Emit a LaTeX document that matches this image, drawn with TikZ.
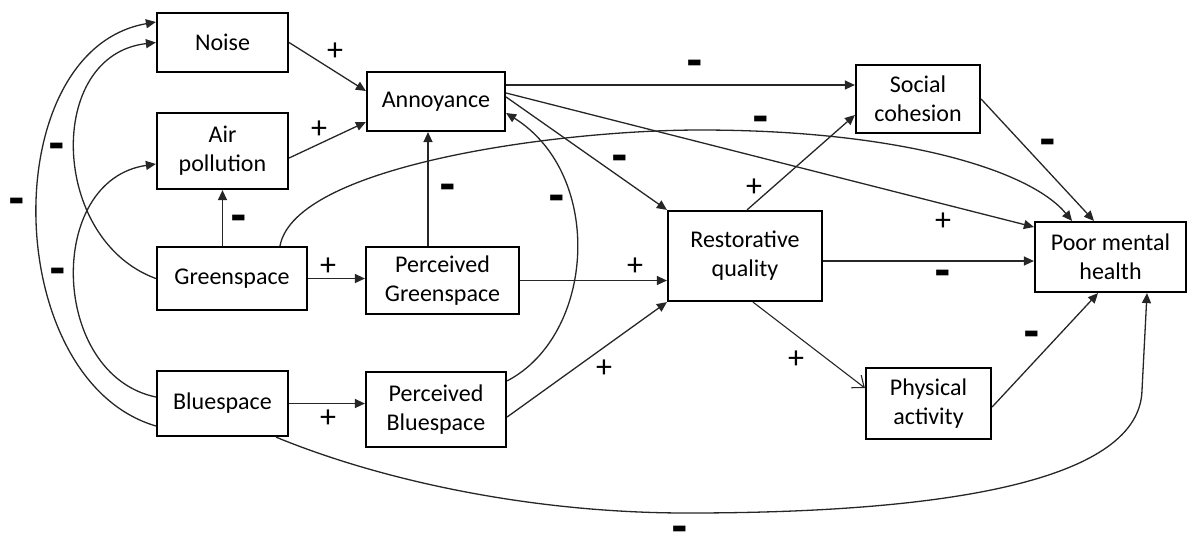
\documentclass[tikz,border=0pt]{standalone}
\usepackage{fontspec}
\setmainfont{Carlito}
\newfontfamily\djb{DejaVu Sans Bold}
\usetikzlibrary{arrows.meta,calc}
\begin{document}
\begin{tikzpicture}[x=0.5pt,y=-0.5pt,
  box/.style={draw=black, line width=1.1pt, rectangle, align=center, inner sep=0pt,
              font=\fontsize{12}{14.6}\selectfont},
  conn/.style={draw=black!85, line width=0.65pt, -{Triangle[length=5pt,width=4.5pt]}},
  openconn/.style={draw=black!85, line width=0.55pt, -{Straight Barb[length=5pt,width=8pt]}},
  plus/.style={font=\fontsize{16}{16}\selectfont, inner sep=0pt},
  minus/.style={font=\djb\fontsize{20}{20}\selectfont, inner sep=0pt}]
\useasboundingbox (0,0) rectangle (1192,548);

% boxes
\node[box,minimum width=65.5pt,minimum height=29.5pt] (noise) at (222.5,42.5) {Noise};
\node[box,minimum width=65.5pt,minimum height=38pt] (air) at (222.5,151) {Air\\pollution};
\node[box,minimum width=75pt,minimum height=31.5pt] (green) at (232,278.5) {Greenspace};
\node[box,minimum width=65.5pt,minimum height=32.5pt] (blue) at (222.5,403.5) {Bluespace};
\node[box,minimum width=69pt,minimum height=29.5pt] (ann) at (436,101.5) {Annoyance};
\node[box,minimum width=76.5pt,minimum height=33.5pt] (pg) at (442.5,280.5) {Perceived\\Greenspace};
\node[box,minimum width=70pt,minimum height=37.5pt] (pb) at (436,409.5) {Perceived\\Bluespace};
\node[box,minimum width=77pt,minimum height=45pt] (rq) at (745,256) {Restorative\\quality};
\node[box,minimum width=62pt,minimum height=34pt] (sc) at (918,99) {Social\\cohesion};
\node[box,minimum width=75.5pt,minimum height=35pt] (pmh) at (1110.5,257) {Poor mental\\health};
\node[box,minimum width=62.5pt,minimum height=35.5pt] (pa) at (928.5,403.5) {Physical\\activity};

% connectors
\draw[conn] (noise.east) -- ([yshift=5.25pt]ann.west);
\draw[conn] ([yshift=-3.5pt]air.east) -- ([yshift=-10.25pt]ann.west);
\draw[conn] (air.south |- green.north) -- (air.south);
\draw[conn] (green.west) .. controls (50,240) and (45,55) .. (noise.west);
\draw[conn] ([yshift=-11.25pt]blue.west) .. controls (0,380) and (-5,50) .. ([yshift=10.25pt]noise.west);
\draw[conn] ([yshift=3.25pt]blue.west) .. controls (50,375) and (45,180) .. ([yshift=-6.5pt]air.west);
\draw[conn] (green.east) -- (green.east -| pg.west);
\draw[conn] (blue.east) -- (blue.east -| pb.west);
\draw[conn] ([xshift=-7.25pt]pg.north) -- ([xshift=-7.25pt]pg.north |- ann.south);
\draw[conn] ([yshift=-5pt]pb.north east) .. controls (595,335) and (605,175) .. ([yshift=-5.75pt]ann.east);
\draw[conn] ([yshift=8.25pt]ann.east) -- ([yshift=8.25pt]ann.east -| sc.west);
\draw[conn] ([yshift=4.25pt]ann.east) -- ([yshift=15pt]pmh.west);
\draw[conn] ([yshift=2.25pt]ann.east) -- (rq.north west);
\draw[conn] ([xshift=24pt]green.north) .. controls (295,165) and (560,130) .. (700,130)
   .. controls (900,130) and (1030,170) .. ([xshift=-19.25pt]pmh.north);
\draw[conn] (pg.east) -- (pg.east -| rq.west);
\draw[conn] ([yshift=-3.75pt]pb.east) -- (rq.south west);
\draw[conn] ([xshift=1pt]rq.north) -- ([yshift=-8pt]sc.west);
\draw[conn] ([yshift=-2.5pt]rq.east) -- ([yshift=-2.5pt]rq.east -| pmh.west);
\draw[openconn] ([xshift=4pt]rq.south) -- ([yshift=7.75pt]pa.west);
\draw[conn] (sc.east) -- ([xshift=-8.25pt]pmh.north);
\draw[conn] ([yshift=-1.75pt]pa.east) -- ([xshift=-6.25pt]pmh.south);
\coordinate (bend) at (1142,390);
\draw[conn] ([xshift=26.75pt]blue.south) .. controls (380,480) and (530,513) .. (687,513)
   .. controls (950,513) and (1140,480) .. (bend) -- ([xshift=18.25pt]pmh.south);

% signs
\node[plus]  (s1)  at (335,52)  {+};
\node[plus]  (s2)  at (319,130) {+};
\node[minus] (s3)  at (239,222) {-};
\node[minus] (s4)  at (57,150)  {-};
\node[minus] (s5)  at (17,205)  {-};
\node[minus] (s6)  at (58,275)  {-};
\node[plus]  (s7)  at (328,267) {+};
\node[plus]  (s8)  at (328,419) {+};
\node[minus] (s9)  at (448,191) {-};
\node[minus] (s10) at (557,202) {-};
\node[minus] (s11) at (695,67)  {-};
\node[minus] (s12) at (761,123) {-};
\node[minus] (s13) at (620,162) {-};
\node[plus]  (s14) at (635,267) {+};
\node[plus]  (s15) at (604,369) {+};
\node[plus]  (s16) at (754,188) {+};
\node[plus]  (s17) at (943,222) {+};
\node[minus] (s18) at (943,277) {-};
\node[minus] (s19) at (1048,146) {-};
\node[minus] (s20) at (1032,338) {-};
\node[plus]  (s21) at (796,360) {+};
\node[minus] (s22) at (680,533) {-};
\end{tikzpicture}
\end{document}
